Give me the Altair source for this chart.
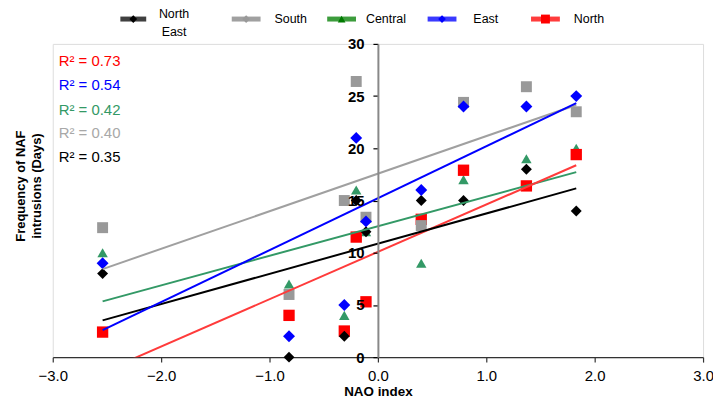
import altair as alt
import pandas as pd

# ---- data ----
nao = [-2.54, -0.82, -0.31, -0.20, -0.11, 0.40, 0.79, 1.37, 1.83]
north_east = [8, 0, 2, 15, 12, 15, 15, 18, 14]
south = [12.4, 6, 15, 26.4, 13.4, 12.6, 24.4, 25.9, 23.5]
central = [10, 7, 4, 16, 12, 9, 17, 19, 20]
east = [9, 2, 5, 21, 13, 16, 24, 24, 25]
north = [2.4, 4, 2.5, 11.5, 5.3, 13.2, 17.9, 16.4, 19.4]

series_names = ["North East", "South", "Central", "East", "North"]
series_values = [north_east, south, central, east, north]
r2_order = ["North", "East", "Central", "South", "North East"]
r2_values = [0.73, 0.54, 0.42, 0.40, 0.35]
x_ticks = [-3, -2, -1, 0, 1, 2, 3]
y_ticks = [0, 5, 10, 15, 20, 25, 30]

# ---- styles ----
FONT = "Liberation Sans"
style = {
    "North East": dict(marker="#000000", line="#000000", text="#000000", shape="diamond", size=121,
                       leg_line="#404040", leg_marker="#000000", leg_shape="diamond", leg_size=60),
    "South": dict(marker="#999999", line="#a0a0a0", text="#a8a8a8", shape="square", size=121,
                  leg_line="#a0a0a0", leg_marker="#999999", leg_shape="diamond", leg_size=60),
    "Central": dict(marker="#339966", line="#339966", text="#339966", shape="triangle-up", size=110,
                    leg_line="#3c9c3c", leg_marker="#007a00", leg_shape="triangle-up", leg_size=60),
    "East": dict(marker="#0000ff", line="#0000ff", text="#0000ff", shape="diamond", size=144,
                 leg_line="#3a3aff", leg_marker="#0000ff", leg_shape="diamond", leg_size=60),
    "North": dict(marker="#ff0000", line="#ff3b3b", text="#ff0000", shape="square", size=130,
                  leg_line="#ff3c3c", leg_marker="#ff0000", leg_shape="square", leg_size=80),
}
legend_pos = {  # line x1, x2, label x (relative to plot area)
    "North East": (68, 94, 122),
    "South": (180, 209, 223),
    "Central": (276, 305, 315),
    "East": (377, 406, 423),
    "North": (481, 510, 524),
}
r2_y = [17, 41, 66, 90, 114]

rows = []
for name, vals in zip(series_names, series_values):
    for xv, yv in zip(nao, vals):
        rows.append({"series": name, "nao": xv, "days": yv})
df = pd.DataFrame(rows)
one = pd.DataFrame({"a": [0]})

W, H = 654, 315

x_enc = alt.X(
    "nao:Q",
    scale=alt.Scale(domain=[-3, 3], nice=False, zero=False),
    axis=alt.Axis(values=x_ticks, format=".1f", title="NAO index", grid=False, labelFlush=False,
                  domainColor="#333333", domainWidth=1.5, tickColor="#333333", tickSize=5,
                  tickWidth=1.2, labelFont=FONT, labelFontSize=15, labelColor="#000000",
                  labelPadding=7, titleFont=FONT, titleFontSize=13.5, titleFontWeight="bold",
                  titleColor="#000000", titlePadding=1),
)
y_enc = alt.Y(
    "days:Q",
    scale=alt.Scale(domain=[0, 30], nice=False, zero=False),
    axis=alt.Axis(values=y_ticks, format="d", title=None, grid=False, offset=-(W / 2),
                  labelFlush=False,
                  domainColor="#888888", domainWidth=2, tickColor="#000000", tickSize=5,
                  tickWidth=1.2, labelFont=FONT, labelFontSize=15, labelFontWeight="bold",
                  labelColor="#000000", labelPadding=9, zindex=1),
)

layers = []
draw_order = ["Central", "North", "South", "North East", "East"]
for name in draw_order:
    s = style[name]
    layers.append(
        alt.Chart(df).transform_filter(alt.datum.series == name)
        .mark_point(shape=s["shape"], filled=True, size=s["size"], color=s["marker"], opacity=1)
        .encode(x=x_enc, y=y_enc)
    )
for name in draw_order:
    s = style[name]
    layers.append(
        alt.Chart(df).transform_filter(alt.datum.series == name)
        .transform_regression("nao", "days")
        .mark_line(color=s["line"], strokeWidth=2, clip=True)
        .encode(x=x_enc, y=y_enc)
    )

# R² annotations
for name, val, yy in zip(r2_order, r2_values, r2_y):
    layers.append(
        alt.Chart(one).mark_text(align="left", baseline="middle", font=FONT, fontSize=15,
                                 color=style[name]["text"])
        .encode(x=alt.value(6), y=alt.value(yy), text=alt.value(f"R² = {val:.2f}"))
    )

# custom legend
for name in series_names:
    s = style[name]
    x1, x2, lx = legend_pos[name]
    layers.append(
        alt.Chart(one).mark_rule(color=s["leg_line"], strokeWidth=5)
        .encode(x=alt.value(x1), x2=alt.value(x2), y=alt.value(-25))
    )
    layers.append(
        alt.Chart(one).mark_point(shape=s["leg_shape"], filled=True, size=s["leg_size"],
                                  color=s["leg_marker"], opacity=1)
        .encode(x=alt.value((x1 + x2) / 2), y=alt.value(-25))
    )
    if name == "North East":
        for word, yy in (("North", -30), ("East", -12)):
            layers.append(
                alt.Chart(one).mark_text(align="center", baseline="middle", font=FONT,
                                         fontSize=12.5, color="#000000")
                .encode(x=alt.value(lx), y=alt.value(yy), text=alt.value(word))
            )
    else:
        layers.append(
            alt.Chart(one).mark_text(align="left", baseline="middle", font=FONT,
                                     fontSize=12.5, color="#000000")
            .encode(x=alt.value(lx), y=alt.value(-25), text=alt.value(name))
        )

# y-axis title (two lines, rotated)
for line, xx in (("Frequency of NAF", -32), ("intrusions (Days)", -16)):
    layers.append(
        alt.Chart(one).mark_text(align="center", baseline="middle", font=FONT, fontSize=13,
                                 fontWeight="bold", angle=270, color="#000000")
        .encode(x=alt.value(xx), y=alt.value(143), text=alt.value(line))
    )

chart = (
    alt.layer(*layers)
    .properties(width=W, height=H, autosize=alt.AutoSizeParams(type="none"),
                padding={"left": 45, "top": 35, "right": 10, "bottom": 42},
                background="#ffffff")
    .configure_view(stroke="#a0a0a0", strokeWidth=1.5)
    .configure(font=FONT)
)

chart.save("out.html", embed_options={"renderer": "svg", "actions": False})
